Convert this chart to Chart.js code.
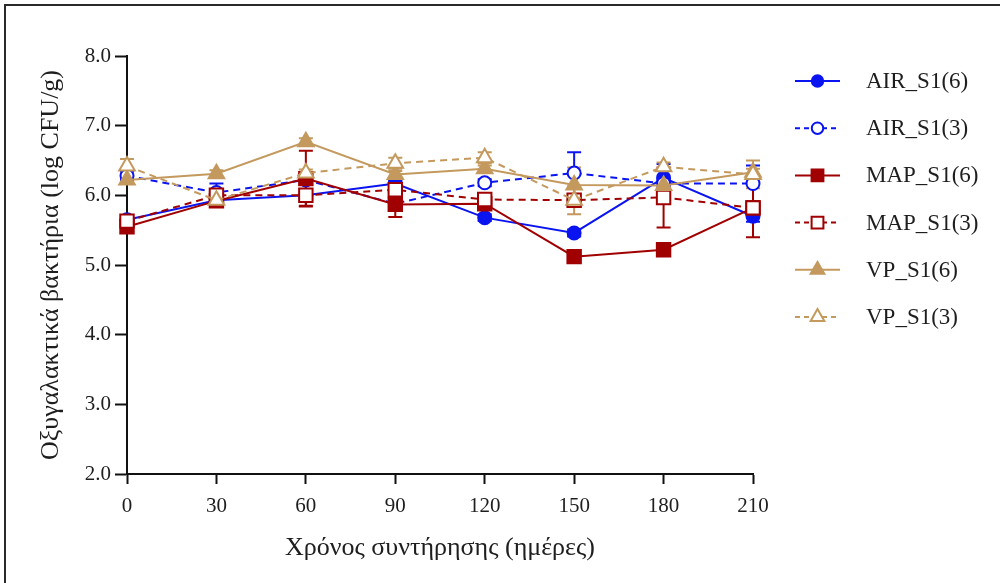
<!DOCTYPE html>
<html>
<head>
<meta charset="utf-8">
<script src="https://cdn.jsdelivr.net/npm/chart.js@4/dist/chart.umd.min.js"></script>
<style>
  html, body { margin: 0; padding: 0; background: #fff; }
  #wrap { position: relative; width: 1000px; height: 583px; }
</style>
</head>
<body>
<div id="wrap"><canvas id="lactic" width="1000" height="583"></canvas></div>
<script>
// storage days
const days = [0, 30, 60, 90, 120, 150, 180, 210];
const xTicks = [0, 30, 60, 90, 120, 150, 180, 210];
const yTicks = [2.0, 3.0, 4.0, 5.0, 6.0, 7.0, 8.0];

// mean log CFU/g and error per series
const airS6 = [5.65, 5.93, 6.00, 6.17, 5.68, 5.46, 6.25, 5.70];
const airS6Err = [0.04, 0.05, 0.05, 0.05, 0.05, 0.05, 0.20, 0.08];
const airS3 = [6.28, 6.04, 6.22, 5.88, 6.18, 6.32, 6.17, 6.17];
const airS3Err = [0.06, 0.13, 0.05, 0.05, 0.05, 0.30, 0.05, 0.26];
const mapS6 = [5.55, 5.92, 6.24, 5.87, 5.88, 5.12, 5.22, 5.82];
const mapS6Err = [0.05, 0.05, 0.40, 0.18, 0.05, 0.05, 0.05, 0.42];
const mapS3 = [5.63, 6.00, 6.00, 6.08, 5.94, 5.93, 5.97, 5.82];
const mapS3Err = [0.05, 0.05, 0.15, 0.05, 0.05, 0.05, 0.43, 0.05];
const vpS6 = [6.22, 6.31, 6.77, 6.30, 6.38, 6.15, 6.14, 6.33];
const vpS6Err = [0.05, 0.05, 0.05, 0.05, 0.05, 0.25, 0.05, 0.05];
const vpS3 = [6.42, 5.93, 6.32, 6.46, 6.54, 5.93, 6.41, 6.30];
const vpS3Err = [0.10, 0.05, 0.05, 0.08, 0.08, 0.20, 0.06, 0.20];

const BLUE = '#0a14f0';
const RED = '#a00000';
const TAN = '#c4995e';
const SERIF = "'Liberation Serif', 'DejaVu Serif', serif";

function series(label, values, errors, color, style, radius, open, dashed, order) {
    return {
        label,
        data: days.map((d, i) => ({ x: d, y: values[i] })),
        errors,
        borderColor: color,
        backgroundColor: open ? '#ffffff' : color,
        pointBackgroundColor: open ? '#ffffff' : color,
        pointBorderColor: color,
        pointBorderWidth: 2,
        pointStyle: style,
        pointRadius: radius,
        borderWidth: 2,
        borderDash: dashed ? [7, 5] : [],
        tension: 0,
        fill: false,
        clip: false,
        order
    };
}

// frame lines along top and left edge
const framePlugin = {
    id: 'frame',
    beforeDraw(chart) {
        const ctx = chart.ctx;
        ctx.save();
        ctx.strokeStyle = '#2a2a2a';
        ctx.lineWidth = 2;
        ctx.beginPath();
        ctx.moveTo(5, 583);
        ctx.lineTo(5, 5);
        ctx.lineTo(1000, 5);
        ctx.stroke();
        ctx.restore();
    }
};

// vertical error bars with caps, under the markers
const errorBars = {
    id: 'errorBars',
    beforeDatasetsDraw(chart) {
        const ctx = chart.ctx;
        const xs = chart.scales.x, ys = chart.scales.y;
        ctx.save();
        chart.data.datasets.forEach(ds => {
            ctx.strokeStyle = ds.borderColor;
            ctx.lineWidth = 2;
            ctx.setLineDash([]);
            ds.data.forEach((p, i) => {
                const e = ds.errors[i];
                const px = xs.getPixelForValue(p.x);
                const top = ys.getPixelForValue(p.y + e);
                const bot = ys.getPixelForValue(p.y - e);
                ctx.beginPath();
                ctx.moveTo(px, top);
                ctx.lineTo(px, bot);
                ctx.moveTo(px - 7, top);
                ctx.lineTo(px + 7, top);
                ctx.moveTo(px - 7, bot);
                ctx.lineTo(px + 7, bot);
                ctx.stroke();
            });
        });
        ctx.restore();
    }
};

// legend: line sample with marker, label to the right
const sideLegend = {
    id: 'sideLegend',
    afterDraw(chart) {
        const ctx = chart.ctx;
        const x0 = 795, x1 = 840, tx = 866, y0 = 81, step = 47.2;
        ctx.save();
        chart.data.datasets.forEach((ds, i) => {
            const y = y0 + i * step;
            ctx.strokeStyle = ds.borderColor;
            ctx.lineWidth = 2;
            ctx.setLineDash(ds.borderDash.length ? [5, 4] : []);
            ctx.beginPath();
            ctx.moveTo(x0, y);
            ctx.lineTo(x1, y);
            ctx.stroke();
            ctx.setLineDash([]);
            ctx.fillStyle = ds.pointBackgroundColor;
            ctx.strokeStyle = ds.pointBorderColor;
            Chart.helpers.drawPoint(ctx, {
                pointStyle: ds.pointStyle,
                radius: ds.pointRadius * 0.88,
                borderWidth: 2,
                rotation: 0
            }, (x0 + x1) / 2, y);
            ctx.fillStyle = '#1e1e1e';
            ctx.font = '23px ' + SERIF;
            ctx.textAlign = 'left';
            ctx.textBaseline = 'middle';
            ctx.fillText(ds.label, tx, y + 1);
        });
        ctx.restore();
    }
};

new Chart(document.getElementById('lactic'), {
    type: 'line',
    data: {
        datasets: [
            series('AIR_S1(6)', airS6, airS6Err, BLUE, 'circle', 6.5, false, false, 6),
            series('AIR_S1(3)', airS3, airS3Err, BLUE, 'circle', 6.5, true, true, 5),
            series('MAP_S1(6)', mapS6, mapS6Err, RED, 'rect', 9.5, false, false, 4),
            series('MAP_S1(3)', mapS3, mapS3Err, RED, 'rect', 9.5, true, true, 3),
            series('VP_S1(6)', vpS6, vpS6Err, TAN, 'triangle', 9, false, false, 2),
            series('VP_S1(3)', vpS3, vpS3Err, TAN, 'triangle', 9, true, true, 1)
        ]
    },
    options: {
        responsive: false,
        animation: false,
        events: [],
        layout: { padding: { left: 0, right: 247, top: 56, bottom: 0 } },
        plugins: {
            legend: { display: false },
            tooltip: { enabled: false }
        },
        scales: {
            x: {
                type: 'linear',
                min: 0,
                max: 210,
                afterFit(scale) { scale.height = 109; },
                afterBuildTicks(scale) { scale.ticks = xTicks.map(v => ({ value: v })); },
                border: { display: true, color: '#111', width: 2 },
                grid: { drawOnChartArea: false, drawTicks: true, tickLength: 10, tickWidth: 2, tickColor: '#111' },
                ticks: {
                    color: '#1e1e1e',
                    padding: 10,
                    maxRotation: 0,
                    font: { family: SERIF, size: 21 }
                },
                title: {
                    display: true,
                    text: 'Χρόνος συντήρησης (ημέρες)',
                    color: '#1e1e1e',
                    font: { family: SERIF, size: 26 },
                    padding: { top: 0, bottom: 19 }
                }
            },
            y: {
                min: 2,
                max: 8,
                afterFit(scale) { scale.width = 127; },
                afterBuildTicks(scale) { scale.ticks = yTicks.map(v => ({ value: v })); },
                border: { display: true, color: '#111', width: 2 },
                grid: { drawOnChartArea: false, drawTicks: true, tickLength: 12, tickWidth: 2, tickColor: '#111' },
                ticks: {
                    color: '#1e1e1e',
                    padding: 4,
                    font: { family: SERIF, size: 21 },
                    callback: v => v.toFixed(1)
                },
                title: {
                    display: true,
                    text: 'Οξυγαλακτικά βακτήρια (log CFU/g)',
                    color: '#1e1e1e',
                    font: { family: SERIF, size: 26 },
                    padding: { top: 36, bottom: 0 }
                }
            }
        }
    },
    plugins: [framePlugin, errorBars, sideLegend]
});
</script>
</body>
</html>
